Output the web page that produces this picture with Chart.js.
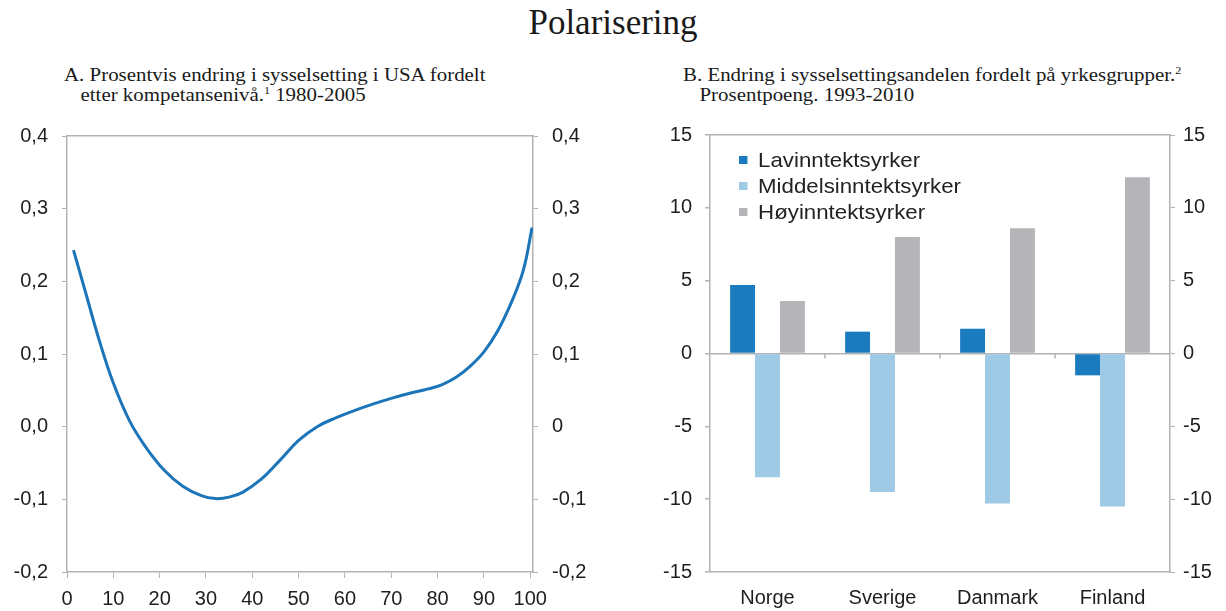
<!DOCTYPE html>
<html>
<head>
<meta charset="utf-8">
<script src="https://cdn.jsdelivr.net/npm/chart.js@4.4.1/dist/chart.umd.min.js"></script>
<style>
  body { margin: 0; width: 1226px; height: 611px; background: #fff; position: relative; overflow: hidden; color: #1a1a1a; font-family: "Liberation Serif", serif; }
  .title { position: absolute; top: 3px; left: 0; width: 1226px; text-align: center; font-size: 35px; }
  .sub { position: absolute; font-size: 19px; line-height: 20px; transform-origin: 0 0; transform: scaleX(1.1); }
  .sub sup { font-size: 11px; line-height: 0; }
  .box { position: absolute; top: 110px; height: 501px; }
  .legend { position: absolute; left: 739px; top: 147px; font-family: "Liberation Sans", Arial, sans-serif; font-size: 21px; color: #222; transform-origin: 0 0; transform: scaleX(1.06); }
  .legend div { height: 26px; line-height: 26px; white-space: nowrap; }
  .legend span { display: inline-block; width: 8px; height: 8px; margin-right: 10px; vertical-align: 3px; }
</style>
</head>
<body>
<div class="title">Polarisering</div>
<div class="sub" style="left:64px;top:65px">A. Prosentvis endring i sysselsetting i USA fordelt<br><span style="padding-left:15px">etter kompetansenivå.<sup>1</sup> 1980-2005</span></div>
<div class="sub" style="left:683px;top:65px">B. Endring i sysselsettingsandelen fordelt på yrkesgrupper.<sup>2</sup><br><span style="padding-left:15px">Prosentpoeng. 1993-2010</span></div>

<div class="box" style="left:0;width:600px"><canvas id="chartA"></canvas></div>
<div class="box" style="left:640px;width:586px"><canvas id="chartB"></canvas></div>
<div class="legend" id="legend"></div>

<script>
// Panel A: percentile of skill distribution vs change in employment share
const kompetanse = [1.4, 4, 7, 10, 13.5, 17, 21, 25, 29, 32, 35, 38, 42, 46, 50, 54, 58, 62, 66, 70, 74, 78, 81, 84, 87, 90, 93, 96, 98.5, 100.4];
const endring = [0.243, 0.185, 0.118, 0.06, 0.008, -0.028, -0.06, -0.082, -0.095, -0.099, -0.097, -0.09, -0.072, -0.046, -0.019, 0.0, 0.012, 0.022, 0.031, 0.039, 0.046, 0.052, 0.058, 0.068, 0.083, 0.103, 0.132, 0.172, 0.215, 0.274];

// Panel B: change in employment share by occupation group
const land = ['Norge', 'Sverige', 'Danmark', 'Finland'];
const lavinntekt = [4.7, 1.5, 1.7, -1.5];
const middelsinntekt = [-8.5, -9.5, -10.3, -10.5];
const hoyinntekt = [3.6, 8.0, 8.6, 12.1];
const seriesNames = ['Lavinntektsyrker', 'Middelsinntektsyrker', 'Høyinntektsyrker'];
const seriesColors = ['#1a7bbf', '#9ecae6', '#b5b5b9'];

const axisColor = '#b3b3b3';
const tickFont = { family: 'Liberation Sans', size: 20 };
const textColor = '#1e1e1e';

function fixW(w) { return function (s) { s.width = w; }; }
function fixH(h) { return function (s) { s.height = h; }; }

function commaFmt(v) { return v.toFixed(1).replace('.', ','); }

new Chart(document.getElementById('chartA'), {
  type: 'line',
  data: {
    datasets: [{
      data: kompetanse.map((x, i) => ({ x: x, y: endring[i] })),
      borderColor: '#1b75b8',
      borderWidth: 3,
      pointRadius: 0,
      tension: 0.4,
      fill: false
    }]
  },
  options: {
    responsive: true,
    maintainAspectRatio: false,
    animation: false,
    layout: { padding: { top: 23, left: 0, right: 0, bottom: 0 } },
    plugins: { legend: { display: false }, tooltip: { enabled: false } },
    scales: {
      x: {
        type: 'linear', min: 0, max: 100.6,
        afterFit: fixH(39),
        grid: { drawOnChartArea: false, color: axisColor, tickLength: 6 },
        border: { color: axisColor, width: 1.5 },
        ticks: { stepSize: 10, includeBounds: false, font: tickFont, color: textColor, padding: 9, maxRotation: 0 }
      },
      xTop: {
        type: 'linear', position: 'top', min: 0, max: 100.6,
        afterFit: fixH(0),
        grid: { display: false },
        border: { color: axisColor, width: 1.5 },
        ticks: { display: false }
      },
      y: {
        min: -0.2, max: 0.4,
        afterFit: fixW(67),
        grid: { drawOnChartArea: false, color: axisColor, tickLength: 5 },
        border: { color: axisColor, width: 1.5 },
        ticks: { stepSize: 0.1, font: tickFont, color: textColor, padding: 14, callback: v => commaFmt(v) }
      },
      y2: {
        position: 'right', min: -0.2, max: 0.4,
        afterFit: fixW(67),
        grid: { drawOnChartArea: false, color: axisColor, tickLength: 5 },
        border: { color: axisColor, width: 1.5 },
        ticks: { stepSize: 0.1, font: tickFont, color: textColor, padding: 14, callback: v => Math.abs(v) < 1e-9 ? '0' : commaFmt(v) }
      }
    }
  }
});

// small tick marks on the zero line between the country groups
const zeroTicks = {
  id: 'zeroTicks',
  afterDatasetsDraw(chart) {
    const xs = chart.scales.x, ys = chart.scales.y;
    const y0 = ys.getPixelForValue(0);
    const c = chart.ctx;
    c.save();
    c.strokeStyle = axisColor;
    c.lineWidth = 1.5;
    for (let i = 1; i < land.length; i++) {
      const x = (xs.getPixelForValue(i - 1) + xs.getPixelForValue(i)) / 2;
      c.beginPath();
      c.moveTo(x, y0);
      c.lineTo(x, y0 + 5);
      c.stroke();
    }
    c.restore();
  }
};

new Chart(document.getElementById('chartB'), {
  type: 'bar',
  data: {
    labels: land,
    datasets: [
      { label: seriesNames[0], data: lavinntekt, backgroundColor: seriesColors[0] },
      { label: seriesNames[1], data: middelsinntekt, backgroundColor: seriesColors[1] },
      { label: seriesNames[2], data: hoyinntekt, backgroundColor: seriesColors[2] }
    ]
  },
  plugins: [zeroTicks],
  options: {
    responsive: true,
    maintainAspectRatio: false,
    animation: false,
    datasets: { bar: { barPercentage: 1, categoryPercentage: 0.65 } },
    layout: { padding: { top: 25, left: 0, right: 0, bottom: 0 } },
    plugins: { legend: { display: false }, tooltip: { enabled: false } },
    scales: {
      x: {
        afterFit: fixH(39),
        grid: { display: false },
        border: { color: axisColor, width: 1.5 },
        ticks: { font: tickFont, color: textColor, padding: 6, maxRotation: 0 }
      },
      xTop: {
        type: 'category', position: 'top', labels: land,
        afterFit: fixH(0),
        grid: { display: false },
        border: { color: axisColor, width: 1.5 },
        ticks: { display: false }
      },
      y: {
        min: -15, max: 15,
        afterFit: fixW(70),
        grid: { color: ctx => ctx.tick && ctx.tick.value === 0 ? axisColor : 'rgba(0,0,0,0)', tickColor: axisColor, lineWidth: 1.5, tickLength: 5 },
        border: { color: axisColor, width: 1.5 },
        ticks: { stepSize: 5, font: tickFont, color: textColor, padding: 13 }
      },
      y2: {
        position: 'right', min: -15, max: 15,
        afterFit: fixW(56),
        grid: { drawOnChartArea: false, color: axisColor, tickLength: 5 },
        border: { color: axisColor, width: 1.5 },
        ticks: { stepSize: 5, font: tickFont, color: textColor, padding: 8 }
      }
    }
  }
});

// legend inside panel B
const legendEl = document.getElementById('legend');
seriesNames.forEach((name, i) => {
  const row = document.createElement('div');
  row.innerHTML = '<span style="background:' + seriesColors[i] + '"></span>' + name;
  legendEl.appendChild(row);
});
</script>
</body>
</html>
